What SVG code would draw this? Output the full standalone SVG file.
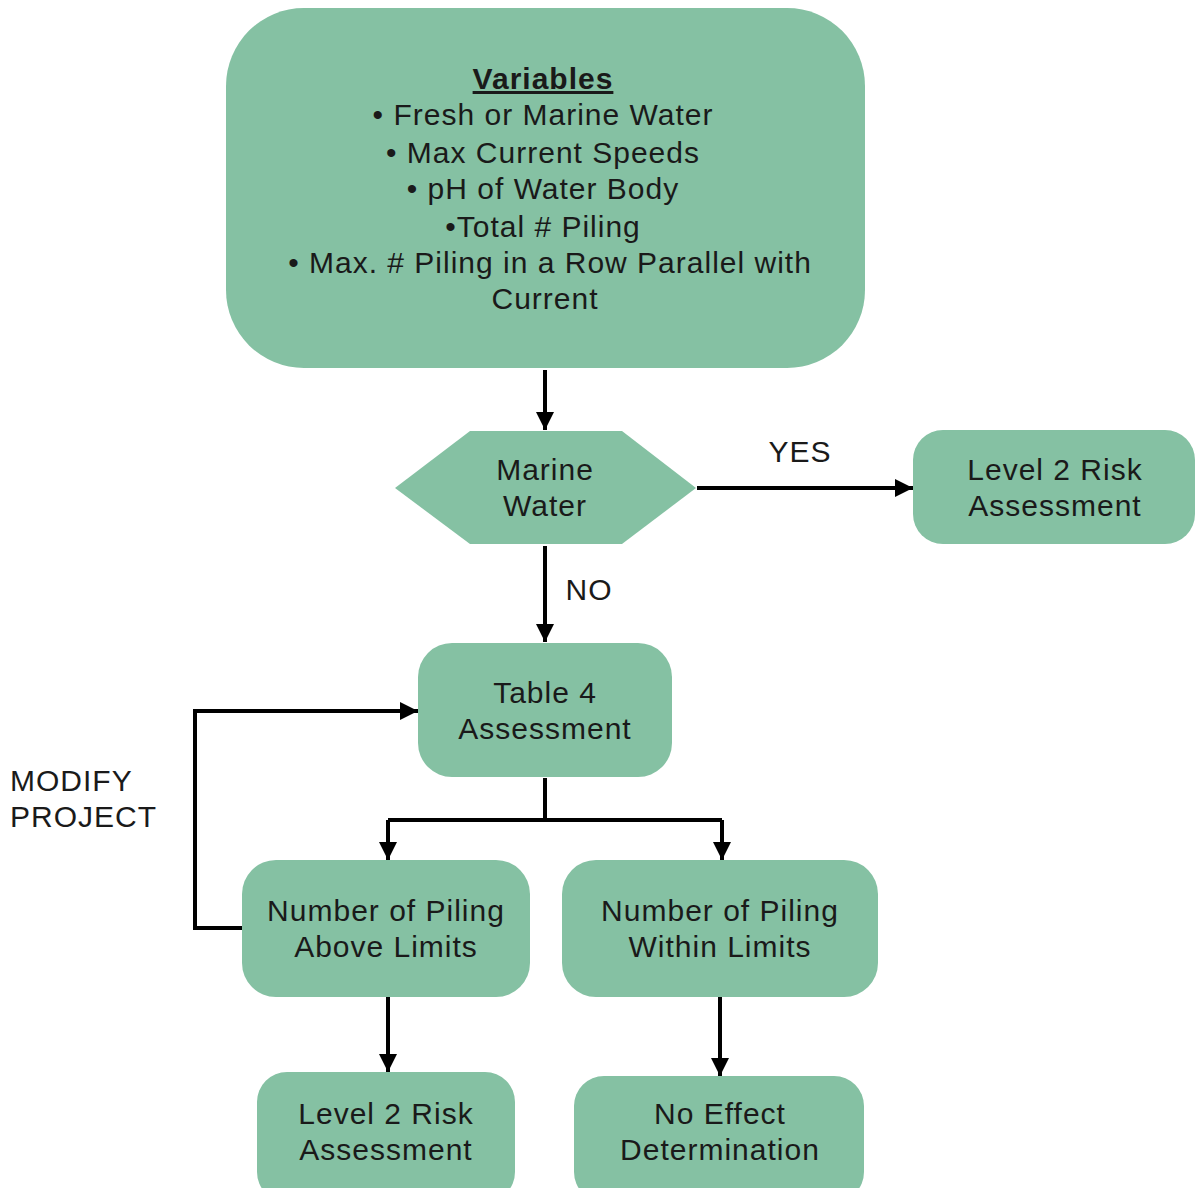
<svg xmlns="http://www.w3.org/2000/svg" width="1195" height="1188" viewBox="0 0 1195 1188">
<defs>
<style>
.n{fill:#85C1A3;stroke:none}
.t{font-family:"Liberation Sans",Arial,sans-serif;font-size:30px;letter-spacing:1px;fill:#1a1a1a;text-anchor:middle}
.l{font-family:"Liberation Sans",Arial,sans-serif;font-size:30px;letter-spacing:1px;fill:#1a1a1a}
.c{fill:none;stroke:#000;stroke-width:4}
</style>
<marker id="ah" viewBox="0 0 10 10" refX="10" refY="5" markerWidth="4.5" markerHeight="4.5" orient="auto" markerUnits="strokeWidth">
<path d="M0,0 L10,5 L0,10 z" fill="#000"/>
</marker>
</defs>
<rect width="1195" height="1188" fill="#fff"/>
<g id="connectors">
<path class="c" d="M545,370 V430" marker-end="url(#ah)"/>
<path class="c" d="M697,488 H913" marker-end="url(#ah)"/>
<path class="c" d="M545,546 V642" marker-end="url(#ah)"/>
<path class="c" d="M545,778 V820 M388,820 H722"/>
<path class="c" d="M388,820 V860" marker-end="url(#ah)"/>
<path class="c" d="M722,820 V860" marker-end="url(#ah)"/>
<path class="c" d="M242,928 H195 V711 H418" marker-end="url(#ah)"/>
<path class="c" d="M388,997 V1072" marker-end="url(#ah)"/>
<path class="c" d="M720,997 V1076" marker-end="url(#ah)"/>
<text class="t" x="800" y="462">YES</text>
<text class="t" x="589" y="600">NO</text>
<text class="l" x="10" y="791">MODIFY</text>
<text class="l" x="10" y="827">PROJECT</text>
</g>
<g id="variables">
<rect class="n" x="226" y="8" width="639" height="360" rx="78" ry="78"/>
<text class="t" x="543" y="89" font-weight="bold" text-decoration="underline">Variables</text>
<text class="t" x="543" y="125">• Fresh or Marine Water</text>
<text class="t" x="543" y="163">• Max Current Speeds</text>
<text class="t" x="543" y="199">• pH of Water Body</text>
<text class="t" x="543" y="237">•Total # Piling</text>
<text class="t" x="550" y="273">• Max. # Piling in a Row Parallel with</text>
<text class="t" x="545" y="309">Current</text>
</g>
<g id="marine">
<polygon class="n" points="395,488 470,431 622,431 696,488 622,544 470,544"/>
<text class="t" x="545" y="480">Marine</text>
<text class="t" x="545" y="516">Water</text>
</g>
<g id="level2a">
<rect class="n" x="913" y="430" width="282" height="114" rx="30" ry="30"/>
<text class="t" x="1055" y="480">Level 2 Risk</text>
<text class="t" x="1055" y="516">Assessment</text>
</g>
<g id="table4">
<rect class="n" x="418" y="643" width="254" height="134" rx="34" ry="34"/>
<text class="t" x="545" y="703">Table 4</text>
<text class="t" x="545" y="739">Assessment</text>
</g>
<g id="above">
<rect class="n" x="242" y="860" width="288" height="137" rx="34" ry="34"/>
<text class="t" x="386" y="921">Number of Piling</text>
<text class="t" x="386" y="957">Above Limits</text>
</g>
<g id="within">
<rect class="n" x="562" y="860" width="316" height="137" rx="34" ry="34"/>
<text class="t" x="720" y="921">Number of Piling</text>
<text class="t" x="720" y="957">Within Limits</text>
</g>
<g id="level2b">
<rect class="n" x="257" y="1072" width="258" height="130" rx="30" ry="30"/>
<text class="t" x="386" y="1124">Level 2 Risk</text>
<text class="t" x="386" y="1160">Assessment</text>
</g>
<g id="noeffect">
<rect class="n" x="574" y="1076" width="290" height="126" rx="30" ry="30"/>
<text class="t" x="720" y="1124">No Effect</text>
<text class="t" x="720" y="1160">Determination</text>
</g>
</svg>
